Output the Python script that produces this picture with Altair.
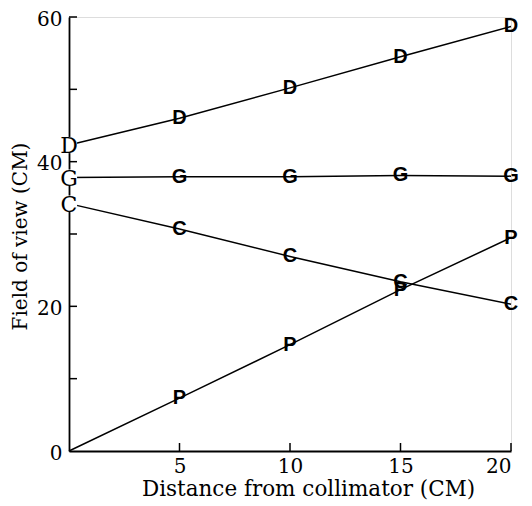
import altair as alt
import pandas as pd

# ---- data ----
distance = [0, 5, 10, 15, 20]
series_names = ["D", "G", "C", "P"]
D_vals = [42.3, 46.0, 50.2, 54.5, 58.7]
G_vals = [37.8, 37.9, 37.9, 38.1, 38.0]
C_vals = [34.2, 30.7, 26.9, 23.4, 20.3]
P_vals = [0.0, 7.3, 14.7, 22.3, 29.5]

y_tick_labels = [0, 20, 40, 60]
y_tick_marks = [10, 20, 30, 40, 50, 60]
x_tick_labels = [5, 10, 15, 20]

W, H = 442, 434
SERIF = "DejaVu Serif"
SANS = "Liberation Sans"

rows = []
for name, vals in zip(series_names, [D_vals, G_vals, C_vals, P_vals]):
    for x, y in zip(distance, vals):
        rows.append({"series": name, "x": x, "y": y})
df = pd.DataFrame(rows)

xs = alt.Scale(domain=[0, 20], nice=False, zero=False)
ys = alt.Scale(domain=[0, 60], nice=False)

base = alt.Chart(df)

lines = base.mark_line(color="black", strokeWidth=1.5).encode(
    x=alt.X("x:Q", scale=xs,
            axis=alt.Axis(values=x_tick_labels, ticks=False, grid=False,
                          domainColor="black", domainWidth=1.8,
                          labelFont=SERIF, labelFontSize=20, labelColor="black",
                          labelPadding=5,
                          title="Distance from collimator (CM)",
                          titleFont=SERIF, titleFontSize=21.5, titleFontWeight="normal",
                          titleColor="black", titleX=239, titleY=38,
                          titleBaseline="middle", titleAlign="center")),
    y=alt.Y("y:Q", scale=ys,
            axis=alt.Axis(values=y_tick_labels, ticks=False, grid=False,
                          domainColor="black", domainWidth=1.8,
                          labelFont=SERIF, labelFontSize=20, labelColor="black",
                          labelPadding=7, labelOffset=2,
                          title="Field of view (CM)",
                          titleFont=SERIF, titleFontSize=20, titleFontWeight="normal",
                          titleColor="black", titleX=-49, titleY=219,
                          titleBaseline="middle", titleAlign="center", titleAngle=270)),
    detail="series:N",
)

inner = base.transform_filter("datum.x > 0").mark_text(
    font=SANS, fontSize=20, fontWeight="bold", color="black", baseline="middle", align="center"
).encode(x=alt.X("x:Q", scale=xs), y=alt.Y("y:Q", scale=ys), text="series:N")

edge_df = base.transform_filter("datum.x == 0 && datum.series != 'P'")
mask = edge_df.mark_square(color="white", opacity=1, size=260, filled=True).encode(
    x=alt.X("x:Q", scale=xs), y=alt.Y("y:Q", scale=ys))
edge = edge_df.mark_text(
    font=SERIF, fontSize=22, color="black", baseline="middle", align="center", dy=1
).encode(x=alt.X("x:Q", scale=xs), y=alt.Y("y:Q", scale=ys), text="series:N")

yt = alt.Chart(pd.DataFrame({"v": y_tick_marks})).mark_rule(color="black", strokeWidth=1.5).encode(
    y=alt.Y("v:Q", scale=ys), x=alt.value(0), x2=alt.value(8))
xt = alt.Chart(pd.DataFrame({"v": x_tick_labels})).mark_rule(color="black", strokeWidth=1.5).encode(
    x=alt.X("v:Q", scale=xs), y=alt.value(H), y2=alt.value(H - 8))

chart = alt.layer(yt, xt, lines, inner, mask, edge).properties(
    width=W, height=H,
    autosize=alt.AutoSizeParams(type="none"),
    padding={"left": 61, "top": 9, "right": 10, "bottom": 53},
).configure_view(stroke=None).configure(background="white")

chart.save("out.html", embed_options={"renderer": "svg", "actions": False})
